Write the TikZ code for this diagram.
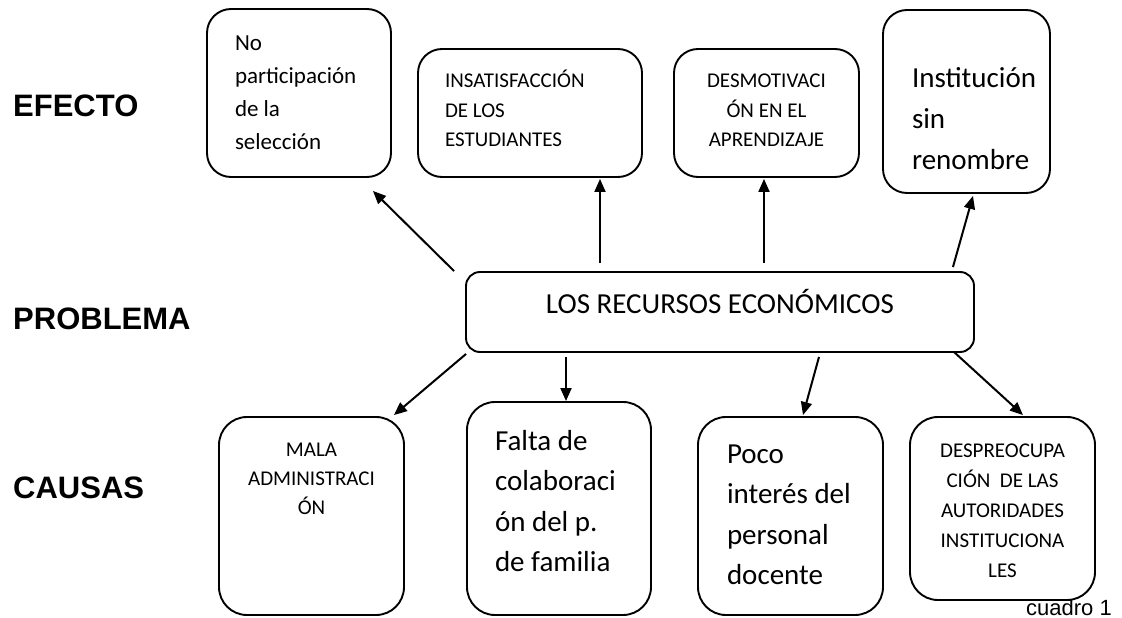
\documentclass[tikz,border=0pt]{standalone}
\usepackage{fontspec}
\setmainfont{Carlito}
\newfontfamily\arialf{Liberation Sans}
\usetikzlibrary{arrows.meta}
\newcommand\txtL[3]{\raisebox{#2pt}[0pt][0pt]{\makebox[0pt][l]{\hspace*{#1pt}\begin{tabular}[t]{@{}l@{}}#3\end{tabular}}}}
\newcommand\txtC[2]{\raisebox{#1pt}[0pt][0pt]{\makebox[0pt][c]{\begin{tabular}[t]{@{}c@{}}#2\end{tabular}}}}
\begin{document}
\begin{tikzpicture}[x=1pt,y=-1pt,
  box/.style={draw, line width=1.9pt, rectangle, inner sep=0pt, rounded corners=24pt},
  arr/.style={line width=2pt, -{Triangle[length=13pt,width=11pt]}},
  lbl/.style={font=\arialf\bfseries\fontsize{31}{36}\selectfont, anchor=base west, inner sep=0pt},
  small/.style={font=\fontsize{21}{29.3}\selectfont},
  big/.style={font=\fontsize{29}{40.5}\selectfont}]
\useasboundingbox (0,0) rectangle (1122,618);

% labels
\node[lbl] (efecto) at (13,117) {EFECTO};
\node[lbl] (problema) at (13,329) {PROBLEMA};
\node[lbl] (causas) at (13,498) {CAUSAS};

% effect boxes
\node[box, minimum width=184pt, minimum height=168pt, font=\fontsize{23}{33.3}\selectfont] (b1) at (299,93)
  {\txtL{-64}{43}{No\\participación\\de la\\selección}};
\node[box, small, minimum width=224pt, minimum height=128pt] (b2) at (530,113)
  {\txtL{-85}{25}{INSATISFACCIÓN\\DE LOS\\ESTUDIANTES}};
\node[box, small, minimum width=185pt, minimum height=128pt] (b3) at (766.5,113)
  {\txtC{25}{DESMOTIVACI\\ÓN EN EL\\APRENDIZAJE}};
\node[box, big, minimum width=167pt, minimum height=183pt, font=\fontsize{29}{41}\selectfont] (b4) at (966.5,101.5)
  {\txtL{-54.5}{13.5}{Institución\\sin\\renombre}};

% problem box
\node[box, big, rounded corners=14pt, minimum width=508pt, minimum height=80pt] (mid) at (720,312)
  {\txtC{-1}{LOS RECURSOS ECONÓMICOS}};

% cause boxes
\node[box, small, rounded corners=28pt, minimum width=185pt, minimum height=198pt] (b6) at (311.5,516)
  {\txtC{60}{MALA\\ADMINISTRACI\\ÓN}};
\node[box, big, rounded corners=28pt, minimum width=184pt, minimum height=213pt] (b7) at (559,508.5)
  {\txtL{-64}{58.5}{Falta de\\colaboraci\\ón del p.\\de familia}};
\node[box, big, rounded corners=28pt, minimum width=185pt, minimum height=198pt] (b8) at (790.5,516)
  {\txtL{-63.5}{53}{Poco\\interés del\\personal\\docente}};
\node[box, font=\fontsize{21}{30}\selectfont, rounded corners=28pt, minimum width=185pt, minimum height=183pt] (b9) at (1002.5,508.5)
  {\txtC{51.5}{DESPREOCUPA\\CIÓN\ \ DE LAS\\AUTORIDADES\\INSTITUCIONA\\LES}};

\node[font=\arialf\fontsize{22}{26}\selectfont, anchor=base east, inner sep=0pt] (cuadro) at (1112,615) {cuadro 1};

% arrows up
\draw[arr] ([shift={(-11,0)}]mid.north west) -- ([shift={(-19,13)}]b1.south east);
\draw[arr] ([shift={(-120,-8)}]mid.north) -- ([shift={(70,1)}]b2.south);
\draw[arr] ([shift={(44,-8)}]mid.north) -- ([shift={(-2.5,1)}]b3.south);
\draw[arr] ([shift={(-22,-4)}]mid.north east) -- ([shift={(6.5,2)}]b4.south);
% arrows down
\draw[arr] ([shift={(1,1)}]mid.south west) -- ([shift={(-11,-1)}]b6.north east);
\draw[arr] ([shift={(-154,4)}]mid.south) -- ([shift={(7,0)}]b7.north);
\draw[arr] ([shift={(99,4)}]mid.south) -- ([shift={(12.5,-1)}]b8.north);
\draw[arr] ([shift={(-21,-1)}]mid.south east) -- ([shift={(20.5,-1)}]b9.north);
\end{tikzpicture}
\end{document}
